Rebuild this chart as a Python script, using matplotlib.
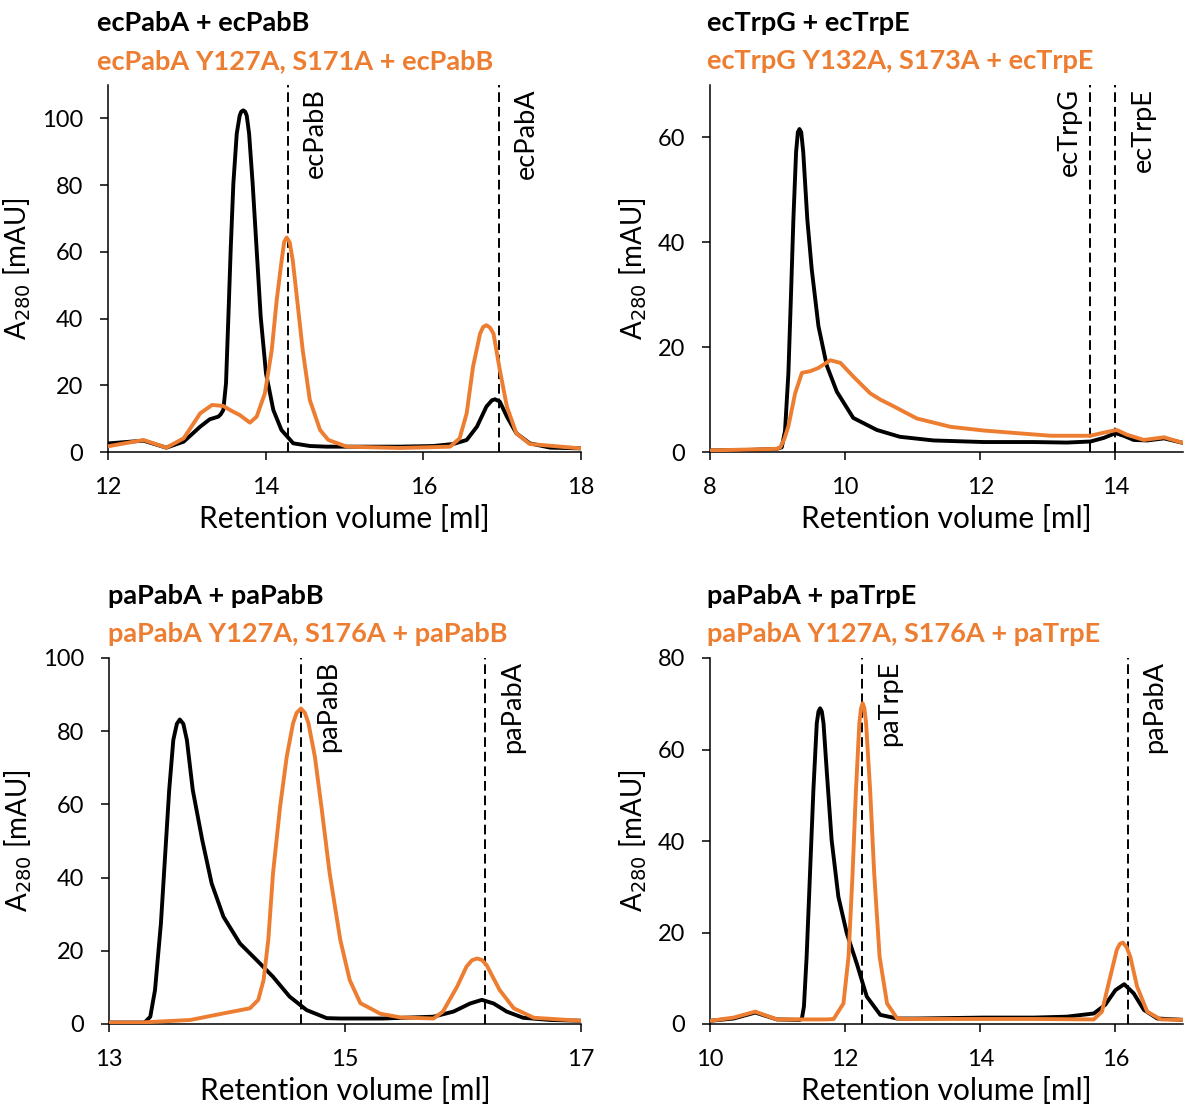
import numpy as np
import matplotlib
matplotlib.use('Agg')
import matplotlib.pyplot as plt
from matplotlib.transforms import blended_transform_factory

plt.rcParams['font.family'] = ['Lato', 'DejaVu Sans']

ORANGE = '#ED7D31'

# --- panel 1: ecPabA + ecPabB ---
p1_wt_x = [12.02, 12.45, 12.74, 12.96, 13.17, 13.29, 13.40, 13.43, 13.463, 13.497, 13.527, 13.556, 13.59, 13.633,
           13.67, 13.69, 13.716, 13.74, 13.76, 13.79, 13.835, 13.886, 13.937, 14.004, 14.097, 14.20, 14.35, 14.56,
           14.77, 15.07, 15.70, 16.13, 16.38, 16.55, 16.68, 16.80, 16.87, 16.91, 16.97, 17.06, 17.18, 17.35,
           17.61, 17.99]
p1_wt_y = [2.6, 3.4, 1.3, 3.1, 7.6, 9.8, 10.6, 11.3, 12.6, 20.6, 40.5, 60.5, 80.4, 95.4,
           100.8, 102.0, 102.4, 102.0, 100.8, 95.4, 80.4, 60.5, 40.5, 23.6, 12.6, 6.6, 2.6, 1.8,
           1.6, 1.6, 1.6, 1.8, 2.4, 3.6, 7.6, 13.6, 15.5, 15.8, 15.1, 10.6, 5.6, 2.6,
           1.3, 1.1]
p1_mut_x = [12.02, 12.45, 12.74, 12.96, 13.17, 13.32, 13.46, 13.57, 13.67, 13.80, 13.886, 13.99, 14.077, 14.14,
            14.203, 14.235, 14.267, 14.305, 14.343, 14.40, 14.47, 14.56, 14.69, 14.795, 15.03, 15.70, 16.34,
            16.46, 16.55, 16.63, 16.72, 16.76, 16.80, 16.845, 16.89, 16.97, 17.06, 17.18, 17.35, 17.99]
p1_mut_y = [1.8, 3.6, 1.3, 4.1, 11.6, 14.1, 13.8, 12.3, 11.1, 8.8, 10.6, 17.6, 30.5, 45.5,
            57.5, 63.0, 64.3, 62.8, 57.5, 45.5, 30.5, 15.6, 6.6, 3.6, 1.6, 1.2, 1.6,
            4.1, 11.6, 25.5, 35.5, 37.5, 38.0, 37.3, 35.5, 24.6, 13.6, 5.6, 2.4, 1.1]

# --- panel 2: ecTrpG + ecTrpE ---
p2_wt_x = [8.0, 8.59, 8.99, 9.062, 9.11, 9.16, 9.195, 9.234, 9.274, 9.30, 9.324, 9.35, 9.38, 9.44, 9.506,
           9.605, 9.728, 9.877, 10.12, 10.47, 10.81, 11.31, 12.05, 12.79, 13.28, 13.63, 13.83, 14.0, 14.12,
           14.27, 14.47, 14.72, 15.01]
p2_wt_y = [0.3, 0.4, 0.6, 0.9, 4.0, 15.0, 28.5, 44.4, 57.2, 61.0, 61.6, 61.0, 57.2, 44.4, 34.8,
           24.0, 16.5, 11.5, 6.5, 4.2, 2.9, 2.2, 1.9, 1.9, 1.8, 2.0, 2.7, 3.6, 3.1,
           2.3, 2.2, 2.6, 1.7]
p2_mut_x = [8.0, 8.99, 9.04, 9.10, 9.16, 9.26, 9.36, 9.48, 9.60, 9.78, 9.93, 10.12, 10.37, 10.52, 10.72,
            11.06, 11.56, 12.05, 12.54, 13.04, 13.63, 13.83, 14.02, 14.17, 14.42, 14.72, 15.01]
p2_mut_y = [0.3, 0.6, 0.9, 2.5, 4.9, 11.2, 15.1, 15.4, 16.0, 17.5, 17.0, 14.4, 11.2, 10.0, 8.7,
            6.4, 4.8, 4.1, 3.6, 3.1, 3.1, 3.7, 4.2, 3.3, 2.3, 2.8, 1.7]

# --- panel 3: paPabA + paPabB ---
p3_wt_x = [13.01, 13.29, 13.305, 13.35, 13.39, 13.44, 13.475, 13.51, 13.545, 13.575, 13.60, 13.63, 13.66, 13.71,
           13.79, 13.87, 13.97, 14.11, 14.25, 14.39, 14.53, 14.675, 14.845, 14.96, 15.32, 15.75, 15.92, 16.06,
           16.16, 16.26, 16.37, 16.51, 16.74, 16.99]
p3_wt_y = [0.4, 0.4, 0.5, 2.0, 9.3, 27.5, 45.7, 63.9, 77.6, 82.0, 83.2, 82.0, 77.6, 63.9,
           50.3, 38.4, 29.3, 22.0, 17.5, 12.9, 7.5, 3.8, 1.6, 1.5, 1.5, 2.0, 3.4, 5.6,
           6.6, 5.6, 3.4, 1.7, 1.1, 0.9]
p3_mut_x = [13.01, 13.26, 13.69, 13.97, 14.195, 14.265, 14.31, 14.35, 14.39, 14.45, 14.506, 14.56, 14.59, 14.627,
            14.66, 14.69, 14.745, 14.80, 14.87, 14.96, 15.04, 15.13, 15.30, 15.47, 15.75, 15.83, 15.95, 16.03,
            16.075, 16.12, 16.16, 16.20, 16.31, 16.43, 16.60, 16.99]
p3_mut_y = [0.4, 0.4, 1.1, 2.9, 4.3, 6.6, 12.0, 23.0, 41.2, 59.4, 73.0, 82.2, 85.0, 86.2,
            85.0, 82.2, 73.0, 59.4, 41.2, 23.0, 12.0, 5.7, 2.8, 1.8, 1.5, 3.4, 10.2, 15.7,
            17.4, 17.9, 17.5, 16.1, 9.3, 4.3, 1.7, 0.9]

# --- panel 4: paPabA + paTrpE ---
p4_wt_x = [10.0, 10.35, 10.67, 10.99, 11.33, 11.36, 11.39, 11.43, 11.48, 11.53, 11.58, 11.605, 11.63, 11.655,
           11.68, 11.73, 11.80, 11.90, 12.025, 12.17, 12.32, 12.52, 12.77, 13.06, 14.05, 14.79, 15.28, 15.68,
           15.85, 16.00, 16.13, 16.27, 16.42, 16.62, 17.01]
p4_wt_y = [0.7, 1.2, 2.5, 1.0, 0.9, 1.2, 3.8, 14.7, 32.9, 51.1, 65.7, 68.3, 69.0, 68.3,
           65.7, 54.8, 40.2, 27.8, 19.8, 13.3, 6.0, 2.0, 1.2, 1.2, 1.4, 1.4, 1.6, 2.3,
           4.2, 7.4, 8.7, 6.7, 3.1, 1.2, 0.9]
p4_mut_x = [10.0, 10.35, 10.67, 10.99, 11.73, 11.83, 11.975, 12.05, 12.11, 12.16, 12.21, 12.235, 12.26, 12.285,
            12.31, 12.37, 12.43, 12.51, 12.62, 12.77, 12.91, 13.31, 14.79, 15.68, 15.80, 15.90, 16.02, 16.065,
            16.11, 16.165, 16.22, 16.32, 16.47, 16.67, 17.01]
p4_mut_y = [0.7, 1.4, 2.7, 1.0, 1.0, 1.1, 4.5, 14.7, 32.9, 51.1, 65.7, 69.0, 70.1, 69.0,
            65.7, 51.1, 32.9, 14.7, 4.5, 1.2, 1.1, 1.1, 1.1, 1.0, 2.7, 8.9, 16.2, 17.5,
            17.8, 16.8, 14.7, 8.2, 2.7, 1.0, 0.9]

titles_wt = ['ecPabA + ecPabB', 'ecTrpG + ecTrpE', 'paPabA + paPabB', 'paPabA + paTrpE']
titles_mut = ['ecPabA Y127A, S171A + ecPabB', 'ecTrpG Y132A, S173A + ecTrpE',
              'paPabA Y127A, S176A + paPabB', 'paPabA Y127A, S176A + paTrpE']

# reference markers: (position, label, side)
markers = [
    [(14.28, 'ecPabB', 'r'), (16.96, 'ecPabA', 'r')],
    [(13.62, 'ecTrpG', 'l'), (14.0, 'ecTrpE', 'r')],
    [(14.63, 'paPabB', 'r'), (16.19, 'paPabA', 'r')],
    [(12.25, 'paTrpE', 'r'), (16.18, 'paPabA', 'r')],
]

xlims = [(12, 18), (8, 15), (13, 17), (10, 17)]
ylims = [(0, 110), (0, 70), (0, 100), (0, 80)]
xticks = [[12, 14, 16, 18], [8, 10, 12, 14], [13, 15, 17], [10, 12, 14, 16]]
yticks = [[0, 20, 40, 60, 80, 100], [0, 20, 40, 60], [0, 20, 40, 60, 80, 100], [0, 20, 40, 60, 80]]

wt_data = [(p1_wt_x, p1_wt_y), (p2_wt_x, p2_wt_y), (p3_wt_x, p3_wt_y), (p4_wt_x, p4_wt_y)]
mut_data = [(p1_mut_x, p1_mut_y), (p2_mut_x, p2_mut_y), (p3_mut_x, p3_mut_y), (p4_mut_x, p4_mut_y)]

W, H = 1184, 1110
fig = plt.figure(figsize=(W / 100, H / 100), dpi=100)

# axes boxes in pixels: left, right, top, bottom
boxes = [(108, 581, 85, 452), (710, 1183, 85, 452), (109, 581, 658, 1024), (710, 1183, 658, 1024)]
title_left = [97, 707, 108, 707]

for i, (l, r, t, b) in enumerate(boxes):
    ax = fig.add_axes([l / W, 1 - b / H, (r - l) / W, (b - t) / H])
    for s in ['top', 'right']:
        ax.spines[s].set_visible(False)
    for s in ['left', 'bottom']:
        ax.spines[s].set_linewidth(1.1)
    ax.tick_params(length=6, width=1.1, pad=12, labelsize=17)

    trans = blended_transform_factory(ax.transData, ax.transAxes)
    for pos, lab, side in markers[i]:
        ax.axvline(pos, color='black', lw=1.4, ls=(0, (5, 2.5)), zorder=1)
        off = 15 if side == 'r' else -8
        ax.annotate(lab, xy=(pos, 1.0), xycoords=trans, xytext=(off, -3), textcoords='offset pixels',
                    rotation=90, ha='left' if side == 'r' else 'right', va='top', fontsize=19.5)

    ax.plot(*wt_data[i], color='black', lw=2.8, solid_joinstyle='round', zorder=3)
    ax.plot(*mut_data[i], color=ORANGE, lw=2.8, solid_joinstyle='round', zorder=4)

    ax.set_xlim(*xlims[i])
    ax.set_ylim(*ylims[i])
    ax.set_xticks(xticks[i])
    ax.set_yticks(yticks[i])
    ax.set_xlabel('Retention volume [ml]', fontsize=21.5, labelpad=5)
    ax.set_ylabel('A$_{280}$ [mAU]', fontsize=20, labelpad=6)

    tx = (title_left[i] - l) / (r - l)
    ax.text(tx, 1.169, titles_wt[i], transform=ax.transAxes, fontsize=19.5, fontweight='bold',
            ha='left', va='center')
    ax.text(tx, 1.066, titles_mut[i], transform=ax.transAxes, fontsize=19.5, fontweight='bold',
            color=ORANGE, ha='left', va='center')

fig.savefig('out.png', dpi=100)
